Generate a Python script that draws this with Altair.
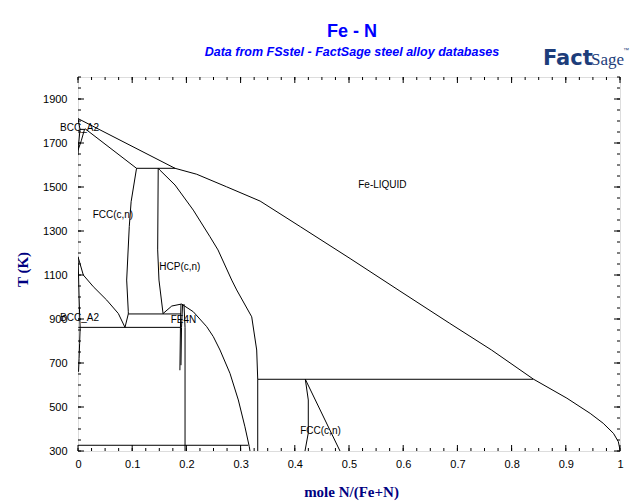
import altair as alt
import pandas as pd

# ---------------- data (mole fraction N, temperature K) ----------------
liq_x = [0.0, 0.179, 0.219, 0.274, 0.336, 0.410, 0.502, 0.594, 0.686, 0.763, 0.840, 0.902, 0.945, 0.969, 0.988, 0.997, 1.0]
liq_T = [1811, 1585, 1558, 1501, 1436, 1320, 1175, 1027, 880, 759, 627, 540, 471, 426, 380, 342, 305]

solidus_x = [0.013, 0.108]
solidus_T = [1765, 1585]

bcc_hi_x = [0.0, 0.0037, 0.001, 0.0]
bcc_hi_T = [1811, 1762, 1690, 1645]
fcc_hi_x = [0.012, 0.006, 0.0]
fcc_hi_T = [1762, 1710, 1667]
peri_hi_x = [0.0037, 0.013]
peri_hi_T = [1762, 1762]

peri_x = [0.108, 0.179]
peri_T = [1585, 1585]

fccA_x = [0.108, 0.098, 0.0946, 0.0898, 0.0928, 0.0928, 0.0867]
fccA_T = [1585, 1433, 1320, 1077, 933, 923, 862]

hcpB_x = [0.148, 0.147, 0.1494, 0.157]
hcpB_T = [1585, 1214, 1077, 923]

hcpC_x = [0.148, 0.151, 0.179, 0.2127, 0.2435, 0.2583, 0.2836, 0.2928, 0.3205, 0.3297, 0.3316, 0.3316]
hcpC_T = [1585, 1577, 1509, 1395, 1274, 1214, 1077, 1032, 910, 759, 626, 300]

domeD_x = [0.157, 0.173, 0.191, 0.2127, 0.2375, 0.2496, 0.262, 0.2804, 0.2958, 0.308, 0.316, 0.3173]
domeD_T = [925, 959, 968, 933, 865, 820, 759, 653, 532, 410, 320, 300]

fe4n1_x = [0.190, 0.189, 0.188]
fe4n1_T = [968, 862, 667]
fe4n2_x = [0.193, 0.191, 0.190]
fe4n2_T = [968, 862, 690]
fe4n3_x = [0.1955, 0.1975, 0.1975]
fe4n3_T = [968, 862, 300]

iso923_x = [0.0928, 0.190]
iso923_T = [923, 923]
iso862_x = [0.0006, 0.190]
iso862_T = [862, 862]
iso626_x = [0.3316, 0.840]
iso626_T = [626, 626]
iso326_x = [0.0, 0.314]
iso326_T = [326, 326]

a3_x = [0.0, 0.0098, 0.0282, 0.053, 0.0744, 0.0867]
a3_T = [1183, 1100, 1047, 986, 925, 862]
bccA3_x = [0.0, 0.001, 0.002, 0.003, 0.004]
bccA3_T = [1183, 1100, 1000, 920, 862]
solvus_x = [0.004, 0.003, 0.002, 0.001]
solvus_T = [862, 790, 720, 660]

fccLo1_x = [0.4194, 0.4249, 0.4249, 0.4188]
fccLo1_T = [626, 532, 382, 300]
fccLo2_x = [0.4194, 0.4834]
fccLo2_T = [626, 300]

label_text = ["BCC_A2", "FCC(c,n)", "HCP(c,n)", "Fe-LIQUID", "BCC_A2", "FE4N", "FCC(c,n)"]
label_x = [-0.033, 0.027, 0.150, 0.517, -0.033, 0.171, 0.410]
label_T = [1768, 1373, 1138, 1509, 903, 895, 391]

x_major = [0.0, 0.1, 0.2, 0.3, 0.4, 0.5, 0.6, 0.7, 0.8, 0.9, 1.0]
x_minor = [i * 0.025 for i in range(41)]
y_major = [300, 500, 700, 900, 1100, 1300, 1500, 1700, 1900]
y_minor = list(range(300, 2001, 50))

title_text = "Fe - N"
subtitle_text = "Data from FSstel - FactSage steel alloy databases"

# ---------------- assemble ----------------
segments = {
    "liq": (liq_x, liq_T), "sol": (solidus_x, solidus_T),
    "bcchi": (bcc_hi_x, bcc_hi_T), "fcchi": (fcc_hi_x, fcc_hi_T), "perihi": (peri_hi_x, peri_hi_T),
    "peri": (peri_x, peri_T), "fccA": (fccA_x, fccA_T), "hcpB": (hcpB_x, hcpB_T),
    "hcpC": (hcpC_x, hcpC_T), "domeD": (domeD_x, domeD_T),
    "fe4n1": (fe4n1_x, fe4n1_T), "fe4n2": (fe4n2_x, fe4n2_T), "fe4n3": (fe4n3_x, fe4n3_T),
    "i923": (iso923_x, iso923_T), "i862": (iso862_x, iso862_T),
    "i626": (iso626_x, iso626_T), "i326": (iso326_x, iso326_T),
    "a3": (a3_x, a3_T), "bcca3": (bccA3_x, bccA3_T), "solv": (solvus_x, solvus_T),
    "fl1": (fccLo1_x, fccLo1_T), "fl2": (fccLo2_x, fccLo2_T),
}
rows = []
for name, (xs_, ts_) in segments.items():
    for i, (a, b) in enumerate(zip(xs_, ts_)):
        rows.append({"seg": name, "i": i, "x": a, "T": b})
df = pd.DataFrame(rows)

W, H = 542, 374
xs = alt.Scale(domain=[0, 1], nice=False, zero=False)
ys = alt.Scale(domain=[300, 2000], nice=False, zero=False)

x_axis = alt.Axis(values=x_major, format=".1~f", labelFlush=False, ticks=False, domain=False, grid=False,
                  labelFont="Liberation Sans", labelFontSize=11, labelColor="black", labelPadding=7,
                  title="mole N/(Fe+N)", titleFont="Liberation Serif", titleFontSize=15,
                  titleFontWeight="bold", titleColor="#000080", titleX=273, titleY=40,
                  titleAlign="center", titleBaseline="middle")
y_axis = alt.Axis(values=y_major, format="d", labelFlush=False, ticks=False, domain=False, grid=False,
                  labelFont="Liberation Sans", labelFontSize=11, labelColor="black", labelPadding=11,
                  title="T (K)", titleFont="Liberation Serif", titleFontSize=15,
                  titleFontWeight="bold", titleColor="#000080", titleX=-56, titleY=192,
                  titleAngle=270, titleAlign="center", titleBaseline="middle")

lines = alt.Chart(df).mark_line(color="black", strokeWidth=1, clip=True).encode(
    x=alt.X("x:Q", scale=xs, axis=x_axis),
    y=alt.Y("T:Q", scale=ys, axis=y_axis),
    detail="seg:N",
    order="i:O",
)

labels = alt.Chart(pd.DataFrame({"t": label_text, "x": label_x, "T": label_T})).mark_text(
    align="left", baseline="middle", font="Liberation Sans", fontSize=10, color="black"
).encode(x=alt.X("x:Q", scale=xs, axis=x_axis), y=alt.Y("T:Q", scale=ys, axis=y_axis), text="t:N")

def xticks(vals, length):
    d = pd.DataFrame({"v": vals})
    bot = alt.Chart(d).mark_rule(color="black", strokeWidth=1).encode(
        x=alt.X("v:Q", scale=xs, axis=x_axis), y=alt.value(H), y2=alt.value(H - length))
    top = alt.Chart(d).mark_rule(color="black", strokeWidth=1).encode(
        x=alt.X("v:Q", scale=xs, axis=x_axis), y=alt.value(0), y2=alt.value(length))
    return [bot, top]

def yticks(vals, length):
    d = pd.DataFrame({"v": vals})
    left = alt.Chart(d).mark_rule(color="black", strokeWidth=1).encode(
        y=alt.Y("v:Q", scale=ys, axis=y_axis), x=alt.value(0), x2=alt.value(length))
    right = alt.Chart(d).mark_rule(color="black", strokeWidth=1).encode(
        y=alt.Y("v:Q", scale=ys, axis=y_axis), x=alt.value(W), x2=alt.value(W - length))
    return [left, right]

def free_text(t, x, y, **kw):
    return alt.Chart(pd.DataFrame({"t": [t]})).mark_text(**kw).encode(
        text="t:N", x=alt.value(x), y=alt.value(y))

title_mark = free_text(title_text, 274, -45, align="center", baseline="middle", font="Liberation Sans",
                       fontWeight="bold", fontSize=18, color="#0000ff")
subtitle_mark = free_text(subtitle_text, 274, -25, align="center", baseline="middle", font="Liberation Sans",
                          fontWeight="bold", fontStyle="italic", fontSize=12.5, color="#0000ff")
logo_fact = free_text("Fact", 465, -12, align="left", baseline="alphabetic", font="DejaVu Sans",
                      fontWeight="bold", fontSize=21, color="#1d3d7a")
logo_sage = free_text("Sage", 513, -12, align="left", baseline="alphabetic", font="Liberation Serif",
                      fontSize=17, color="#1d3d7a")
logo_tm = free_text("\u2122", 545, -25, align="left", baseline="alphabetic", font="Liberation Sans",
                    fontSize=6, color="#1d3d7a")

layers = [lines, labels] + xticks(x_major, 6) + xticks(x_minor, 3) + yticks(y_major, 6) + yticks(y_minor, 3) \
    + [title_mark, subtitle_mark, logo_fact, logo_sage, logo_tm]

chart = alt.layer(*layers).properties(
    width=W, height=H,
    autosize="none",
    padding={"left": 70, "top": 69, "right": 10, "bottom": 52},
).configure_view(stroke="black", strokeWidth=1).configure(background="white")

chart.save("out.html", embed_options={"renderer": "svg", "actions": False})
